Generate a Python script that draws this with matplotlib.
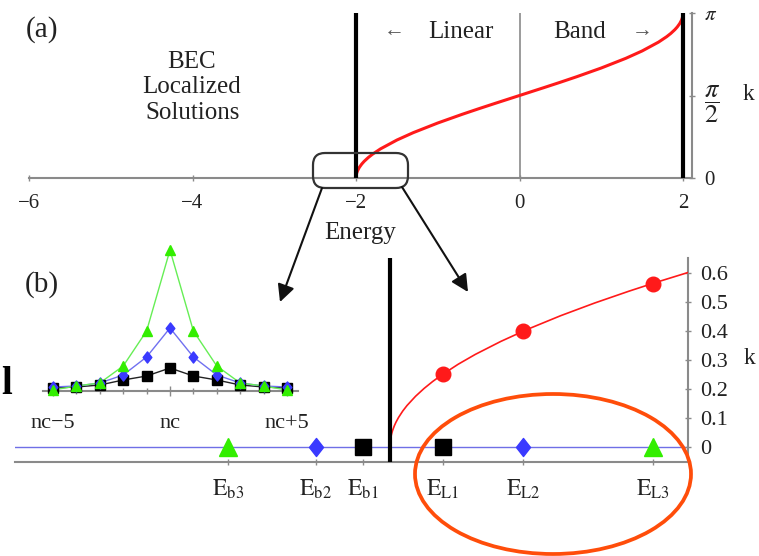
import numpy as np
import matplotlib
matplotlib.use('Agg')
import matplotlib.pyplot as plt
from matplotlib.patches import Ellipse, FancyBboxPatch
from matplotlib.path import Path

plt.rcParams['font.family'] = ['Liberation Serif', 'DejaVu Serif']
plt.rcParams['mathtext.fontset'] = 'stix'

# ---------------- Panel (a): dispersion k(E) over the linear band ----------------
energy_a = [-2.0, -1.9995, -1.998, -1.995, -1.99, -1.98, -1.96, -1.93, -1.9, -1.85,
            -1.8, -1.7, -1.5, -1.3, -1.0, -0.7, -0.5, -0.3, 0.0, 0.3, 0.5, 0.7,
            1.0, 1.3, 1.5, 1.7, 1.8, 1.85, 1.9, 1.93, 1.96, 1.98, 1.99, 1.995,
            1.998, 1.9995, 2.0]
k_a = [0.0, 0.0224, 0.0447, 0.0707, 0.1000, 0.1415, 0.2003, 0.2653, 0.3176, 0.3897,
       0.4510, 0.5548, 0.7227, 0.8632, 1.0472, 1.2132, 1.3181, 1.4202, 1.5708,
       1.7214, 1.8235, 1.9284, 2.0944, 2.2784, 2.4189, 2.5868, 2.6906, 2.7519,
       2.8240, 2.8763, 2.9413, 3.0001, 3.0416, 3.0709, 3.0969, 3.1192, 3.1416]
energy_ticks_a = [-6, -4, -2, 0, 2]
energy_ticklabels_a = ['\u22126', '\u22124', '\u22122', '0', '2']
k_ticks_a = [0, np.pi / 2, np.pi]
k_ticklabels_a = ['0', r'$\dfrac{\pi}{2}$', r'$\pi$']

# ---------------- Panel (b): zoom near the band edge ----------------
energy_b = [-2.0, -1.9999, -1.9997, -1.9994, -1.999, -1.998, -1.997, -1.995, -1.993,
            -1.99, -1.985, -1.98, -1.97, -1.96, -1.95, -1.94, -1.92, -1.9, -1.87,
            -1.84, -1.8, -1.76, -1.72, -1.69, -1.65]
k_b = [0.0, 0.0100, 0.0173, 0.0245, 0.0316, 0.0447, 0.0548, 0.0707, 0.0837,
       0.1000, 0.1225, 0.1415, 0.1733, 0.2003, 0.2241, 0.2455, 0.2838, 0.3176, 0.3625,
       0.4027, 0.4510, 0.4949, 0.5355, 0.5643, 0.6006]
bound_energies = [-2.190, -2.087, -2.032]
bound_labels = [r'$\mathrm{E}_{\mathrm{b3}}$', r'$\mathrm{E}_{\mathrm{b2}}$', r'$\mathrm{E}_{\mathrm{b1}}$']
linear_energies = [-1.938, -1.844, -1.692]
linear_k = [0.249, 0.40, 0.56]
linear_labels = [r'$\mathrm{E}_{\mathrm{L1}}$', r'$\mathrm{E}_{\mathrm{L2}}$', r'$\mathrm{E}_{\mathrm{L3}}$']
k_ticks_b = [0, 0.1, 0.2, 0.3, 0.4, 0.5, 0.6]
k_ticklabels_b = ['0', '0.1', '0.2', '0.3', '0.4', '0.5', '0.6']

# ---------------- Inset: localized profiles ----------------
sites = [-5, -4, -3, -2, -1, 0, 1, 2, 3, 4, 5]
site_ticks = [-5, 0, 5]
site_ticklabels = ['nc\u22125', 'nc', 'nc+5']
profile_1 = [3, 4, 6, 11, 15, 23, 15, 11, 6, 4, 3]        # black squares
profile_2 = [4, 5, 8, 16, 34, 63, 34, 16, 8, 5, 4]        # blue diamonds
profile_3 = [1, 5, 8, 25, 60, 141, 60, 25, 8, 5, 1]       # green triangles

GREEN = '#33ee00'
BLUE = '#3a3aff'
BLACK = '#000000'
RED = '#ff1a1a'
GRAY = '#8a8a8a'
TXT = '#222222'

W, H = 759, 556
fig = plt.figure(figsize=(W / 100, H / 100), dpi=100)


def ax_px(l, t, r, b, **kw):
    return fig.add_axes([l / W, 1 - b / H, (r - l) / W, (b - t) / H], **kw)


diamond = Path([(0, 1), (0.78, 0), (0, -1), (-0.78, 0), (0, 1)],
               [Path.MOVETO, Path.LINETO, Path.LINETO, Path.LINETO, Path.CLOSEPOLY])

# ---- Panel (a)
ax_a = ax_px(29, 13, 692, 178)
ax_a.patch.set_alpha(0)
ax_a.set_xlim(-6, 2.11)
ax_a.set_ylim(0, np.pi)
for s in ['top', 'left']:
    ax_a.spines[s].set_visible(False)
for s in ['bottom', 'right']:
    ax_a.spines[s].set_color(GRAY)
    ax_a.spines[s].set_linewidth(1.5)
ax_a.plot(energy_a, k_a, color=RED, lw=2.2, zorder=3, solid_capstyle='round',
          solid_joinstyle='round')
ax_a.axvline(-2, color='k', lw=3, zorder=4)
ax_a.axvline(2, color='k', lw=3, zorder=4)
ax_a.axvline(0, color=GRAY, lw=1.2, zorder=1)
ax_a.set_xticks(energy_ticks_a)
ax_a.set_xticklabels(energy_ticklabels_a)
ax_a.yaxis.tick_right()
ax_a.set_yticks(k_ticks_a)
ax_a.set_yticklabels(k_ticklabels_a)
ax_a.tick_params(axis='x', direction='inout', length=5, width=1, color=GRAY,
                 labelsize=15, pad=9, labelcolor=TXT)
ax_a.tick_params(axis='y', direction='inout', length=5, width=1, color=GRAY,
                 labelsize=15, pad=6, labelcolor=TXT)
ax_a.get_yticklabels()[1].set_fontsize(19)

# ---- Panel (b)
ax_b = ax_px(15, 258, 688, 462)
ax_b.patch.set_alpha(0)
ax_b.set_xlim(-2.4395, -1.6507)
ax_b.set_ylim(-0.0534, 0.650)
for s in ['top', 'left']:
    ax_b.spines[s].set_visible(False)
for s in ['bottom', 'right']:
    ax_b.spines[s].set_color(GRAY)
    ax_b.spines[s].set_linewidth(1.5)
ax_b.axhline(0, color='#6f6fe6', lw=1, zorder=1)
ax_b.axvline(-2, color='k', lw=3, zorder=4)
ax_b.plot(energy_b, k_b, color=RED, lw=1.2, zorder=3, solid_joinstyle='round')
ax_b.plot(linear_energies, linear_k, 'o', color=RED, ms=10.5, zorder=5, clip_on=False)
ax_b.plot([bound_energies[0]], [0], '^', color=GREEN, ms=13, zorder=5)
ax_b.plot([bound_energies[1]], [0], marker=diamond, color=BLUE, ms=13, ls='none', zorder=5)
ax_b.plot([bound_energies[2]], [0], 's', color=BLACK, ms=11, zorder=5)
ax_b.plot([linear_energies[0]], [0], 's', color=BLACK, ms=11, zorder=5)
ax_b.plot([linear_energies[1]], [0], marker=diamond, color=BLUE, ms=13, ls='none', zorder=5)
ax_b.plot([linear_energies[2]], [0], '^', color=GREEN, ms=13, zorder=5)
ax_b.set_xticks(bound_energies + linear_energies)
ax_b.set_xticklabels(bound_labels + linear_labels)
ax_b.yaxis.tick_right()
ax_b.set_yticks(k_ticks_b)
ax_b.set_yticklabels(k_ticklabels_b)
ax_b.tick_params(axis='x', direction='inout', length=4, width=1, color=GRAY,
                 labelsize=17, pad=9, labelcolor=TXT)
ax_b.tick_params(axis='y', direction='inout', length=5, width=1, color=GRAY,
                 labelsize=16, pad=6, labelcolor=TXT)

# ---- Inset
ax_i = ax_px(43, 245, 298, 391)
ax_i.patch.set_alpha(0)
ax_i.set_xlim(-5.427, 5.47)
ax_i.set_ylim(0, 146)
for s in ['top', 'left', 'right']:
    ax_i.spines[s].set_visible(False)
ax_i.spines['bottom'].set_color(GRAY)
ax_i.spines['bottom'].set_linewidth(1.5)
ax_i.set_yticks([])
ax_i.set_xticks(site_ticks)
ax_i.set_xticklabels(site_ticklabels)
ax_i.set_xticks(sites, minor=True)
ax_i.tick_params(axis='x', which='major', direction='inout', length=7, width=1, color=GRAY,
                 labelsize=16, pad=13, labelcolor=TXT)
ax_i.tick_params(axis='x', which='minor', direction='inout', length=4, width=1, color=GRAY)
ax_i.plot(sites, profile_1, '-', color='#222222', lw=1, zorder=3, clip_on=False)
ax_i.plot(sites, profile_1, 's', color=BLACK, ms=6.5, zorder=4, clip_on=False)
ax_i.plot(sites, profile_2, '-', color='#7070f0', lw=1, zorder=3, clip_on=False)
ax_i.plot(sites, profile_2, marker=diamond, ls='none', color=BLUE, ms=8, zorder=5, clip_on=False)
ax_i.plot(sites, profile_3, '-', color='#66ee55', lw=1, zorder=3, clip_on=False)
ax_i.plot(sites, profile_3, '^', color=GREEN, ms=7.5, zorder=6, clip_on=False)

# ---- Overlay: annotations in pixel coordinates
ov = fig.add_axes([0, 0, 1, 1], zorder=10)
ov.set_xlim(0, W)
ov.set_ylim(H, 0)
ov.axis('off')

ov.text(42, 30, '(a)', fontsize=21, ha='center', va='center', color=TXT)
ov.text(42, 285, '(b)', fontsize=21, ha='center', va='center', color=TXT)
ov.text(192, 62, 'BEC', fontsize=18, ha='center', va='center', color=TXT)
ov.text(192, 87, 'Localized', fontsize=18, ha='center', va='center', color=TXT)
ov.text(193, 113, 'Solutions', fontsize=18, ha='center', va='center', color=TXT)
ov.text(394, 32, '\u2190', fontsize=15, ha='center', va='center', color='#555555')
ov.text(461, 32, 'Linear', fontsize=18, ha='center', va='center', color=TXT)
ov.text(580, 32, 'Band', fontsize=18, ha='center', va='center', color=TXT)
ov.text(642, 32, '\u2192', fontsize=15, ha='center', va='center', color='#555555')
ov.text(360, 233, 'Energy', fontsize=18, ha='center', va='center', color=TXT)
ov.text(748, 95, 'k', fontsize=17, ha='center', va='center', color=TXT)
ov.text(749, 359, 'k', fontsize=17, ha='center', va='center', color=TXT)
ov.text(7, 385, 'l', fontsize=28, ha='center', va='center', color='k', fontweight='bold')

box = FancyBboxPatch((313, 153), 95, 35, boxstyle='round,pad=0,rounding_size=12',
                     fill=False, ec='#333333', lw=1.6)
ov.add_patch(box)
ov.annotate('', xy=(280, 302), xytext=(322, 188),
            arrowprops=dict(arrowstyle='-|>', color='#111111', lw=1.5,
                            mutation_scale=26, shrinkA=0, shrinkB=0))
ov.annotate('', xy=(468, 292), xytext=(402, 187),
            arrowprops=dict(arrowstyle='-|>', color='#111111', lw=1.5,
                            mutation_scale=26, shrinkA=0, shrinkB=0))
ov.add_patch(Ellipse((553, 474), 276, 160, fill=False, ec='#ff4d0a', lw=2.7))

fig.savefig('out.png', dpi=100)
